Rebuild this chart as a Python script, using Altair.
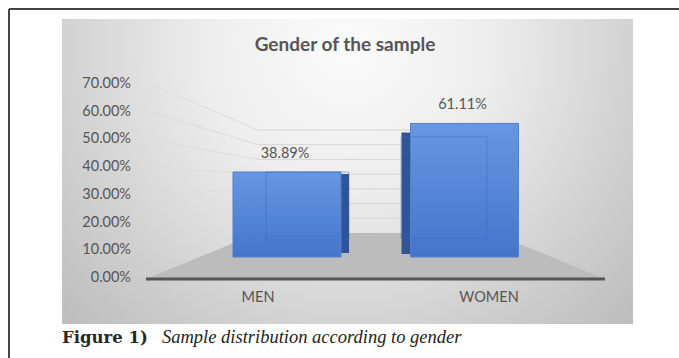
import altair as alt
import pandas as pd

# ---- chart content -------------------------------------------------------
CATEGORIES = ["MEN", "WOMEN"]
SHARES = [38.89, 61.11]                      # % of the sample
TICKS = [0, 10, 20, 30, 40, 50, 60, 70]      # value-axis ticks (%)
TITLE = "Gender of the sample"
CAPTION_LEAD = "Figure 1)"
CAPTION_TEXT = "Sample distribution according to gender"

# ---- page / style ---------------------------------------------------------
W, H = 679, 358
FONT = "Lato"
INK = "#555555"
BLUE_TOP, BLUE_BOTTOM = "#6796e2", "#4575c9"
BLUE_SIDE = "#2f5597"
EDGE = "#3b67b5"

# ---- 3-D box geometry (pixels) -------------------------------------------
PANEL = (62, 633, 19, 324)            # x, x2, y, y2 of the grey chart area
SIDE_X = 150                          # side-wall gridlines start here
BACK_X = (258, 493)                   # back wall left / right
FRONT_X = (146, 605)                  # front edge of the floor
LABEL_Y0, LABEL_Y70 = 278, 84         # value axis labels (side wall)
BACK_Y0, BACK_Y70 = 233, 130          # back wall
BAR_Y0, BAR_Y70 = 257, 104            # plane the bars stand in
FRONT_Y = 279                         # dark floor edge

MEN_X, WOMEN_X = 287, 464.5           # bar centres
BAR_W = 108
LABEL_MEN_X, LABEL_WOMEN_X = 258, 489 # category labels on the floor edge

label_scale = alt.Scale(domain=[0, 70], range=[LABEL_Y0, LABEL_Y70], nice=False)
back_scale = alt.Scale(domain=[0, 70], range=[BACK_Y0, BACK_Y70], nice=False)
bar_scale = alt.Scale(domain=[0, 70], range=[BAR_Y0, BAR_Y70], nice=False)
bar_x = alt.Scale(type="point", domain=CATEGORIES, range=[MEN_X, WOMEN_X], padding=0)
cat_x = alt.Scale(type="point", domain=CATEGORIES, range=[LABEL_MEN_X, LABEL_WOMEN_X], padding=0)

bars = pd.DataFrame({"cat": CATEGORIES, "value": SHARES})
ticks = pd.DataFrame({"t": TICKS})
one = pd.DataFrame({"_": [0]})

# ---- frame and background ------------------------------------------------
frame_top = alt.Chart(one).mark_rule(color="#444444", strokeWidth=2).encode(
    x=alt.value(9), x2=alt.value(W), y=alt.value(9))
frame_left = alt.Chart(one).mark_rule(color="#444444", strokeWidth=2).encode(
    x=alt.value(9), y=alt.value(9), y2=alt.value(H))

panel_fill = alt.RadialGradient(
    gradient="radial", x1=0.5, y1=0.28, x2=0.5, y2=0.28, r1=0, r2=0.72,
    stops=[alt.GradientStop(color="#fbfbfb", offset=0),
           alt.GradientStop(color="#ededed", offset=0.35),
           alt.GradientStop(color="#cfcfcf", offset=0.72),
           alt.GradientStop(color="#bababa", offset=1)])
panel = alt.Chart(one).mark_rect(fill=panel_fill).encode(
    x=alt.value(PANEL[0]), x2=alt.value(PANEL[1]),
    y=alt.value(PANEL[2]), y2=alt.value(PANEL[3]))

# ---- gridlines: back wall and perspective lines on the side wall ----------
grid_ticks = alt.Chart(ticks).transform_filter("datum.t > 0")
back_grid = grid_ticks.mark_rule(color="#d6d6d6", strokeWidth=1).encode(
    y=alt.Y("t:Q", scale=back_scale, axis=None),
    x=alt.value(BACK_X[0]), x2=alt.value(BACK_X[1]))

# back-wall height of each tick, expressed in side-wall units
lk = (LABEL_Y0 - LABEL_Y70) / 70
bk = (BACK_Y0 - BACK_Y70) / 70
side_grid = grid_ticks.transform_calculate(
    u=f"({LABEL_Y0 - BACK_Y0} + datum.t * {bk}) / {lk}"
).mark_rule(color="#dcdcdc", strokeWidth=1).encode(
    y=alt.Y("t:Q", scale=label_scale, axis=None), y2="u:Q",
    x=alt.value(SIDE_X), x2=alt.value(BACK_X[0]))

# ---- floor ---------------------------------------------------------------
floor_df = pd.DataFrame({"fy": [BACK_Y0, FRONT_Y],
                         "fx": [BACK_X[0], FRONT_X[0]],
                         "fx2": [BACK_X[1], FRONT_X[1]]})
floor = alt.Chart(floor_df).mark_area(orient="horizontal", color="#bcbcbc").encode(
    y=alt.Y("fy:Q", scale=None, axis=None),
    x=alt.X("fx:Q", scale=None, axis=None), x2="fx2:Q")
floor_edge = alt.Chart(one).mark_rule(color="#555555", strokeWidth=3).encode(
    x=alt.value(FRONT_X[0]), x2=alt.value(FRONT_X[1]), y=alt.value(FRONT_Y))

# ---- bars ----------------------------------------------------------------
base = alt.Chart(bars)
enc = dict(x=alt.X("cat:N", scale=bar_x, axis=None),
           y=alt.Y("value:Q", scale=bar_scale, axis=None),
           y2=alt.Y2(datum=0))

side_men = base.transform_filter("datum.cat == 'MEN'").mark_bar(
    size=10, xOffset=BAR_W / 2 + 3, yOffset=2, y2Offset=-4, color=BLUE_SIDE
).encode(**enc)
side_women = base.transform_filter("datum.cat == 'WOMEN'").mark_bar(
    size=11, xOffset=-(BAR_W / 2 + 3.5), yOffset=9, y2Offset=-3, color=BLUE_SIDE
).encode(**enc)

front_fill = alt.LinearGradient(
    gradient="linear", x1=0, y1=0, x2=0, y2=1,
    stops=[alt.GradientStop(color=BLUE_TOP, offset=0),
           alt.GradientStop(color=BLUE_BOTTOM, offset=1)])
front = base.mark_bar(size=BAR_W, fill=front_fill, stroke="#4f80d2",
                      strokeWidth=1).encode(**enc)

back_men = base.transform_filter("datum.cat == 'MEN'").mark_bar(
    size=83, xOffset=20.5, y2Offset=-17, fillOpacity=0, stroke=EDGE,
    strokeOpacity=0.45, strokeWidth=1).encode(**enc)
back_women = base.transform_filter("datum.cat == 'WOMEN'").mark_bar(
    size=86, xOffset=-20.5, yOffset=13.5, y2Offset=-19, fillOpacity=0, stroke=EDGE,
    strokeOpacity=0.45, strokeWidth=1).encode(**enc)

value_labels = base.transform_calculate(
    label="format(datum.value, '.2f') + '%'"
).mark_text(font=FONT, fontSize=14.5, color=INK, dy=-18, dx=-2).encode(
    x=alt.X("cat:N", scale=bar_x, axis=None),
    y=alt.Y("value:Q", scale=bar_scale, axis=None),
    text="label:N")

# ---- axis text -------------------------------------------------------------
tick_labels = alt.Chart(ticks).transform_calculate(
    label="format(datum.t, '.2f') + '%'"
).mark_text(font=FONT, fontSize=14.5, color=INK, align="right", baseline="middle").encode(
    y=alt.Y("t:Q", scale=label_scale, axis=None),
    x=alt.value(131), text="label:N")

cat_labels = base.mark_text(font=FONT, fontSize=14.5, color=INK, baseline="middle").encode(
    x=alt.X("cat:N", scale=cat_x, axis=None),
    y=alt.value(298), text="cat:N")

title = alt.Chart(one).mark_text(
    text=TITLE, font=FONT, fontSize=19, fontWeight="bold", color=INK,
    baseline="middle").encode(x=alt.value(345), y=alt.value(45))

caption_lead = alt.Chart(one).mark_text(
    text=CAPTION_LEAD, font="DejaVu Serif", fontSize=16.5, fontWeight=600,
    color="#2a2627", align="left", baseline="alphabetic").encode(
    x=alt.value(62), y=alt.value(343))
caption_text = alt.Chart(one).mark_text(
    text=CAPTION_TEXT, font="Liberation Serif", fontSize=18.5, fontStyle="italic",
    color="#231f20", align="left", baseline="alphabetic").encode(
    x=alt.value(162), y=alt.value(343))

chart = alt.layer(
    panel, back_grid, side_grid, floor, floor_edge,
    side_men, side_women, front, back_men, back_women,
    value_labels, tick_labels, cat_labels, title,
    caption_lead, caption_text, frame_top, frame_left,
).resolve_scale(
    x="independent", y="independent"
).properties(
    width=W, height=H, padding=0, background="white",
    autosize=alt.AutoSizeParams(type="none"),
).configure_view(strokeWidth=0)

chart.save("out.html", embed_options={"renderer": "svg", "actions": False})
